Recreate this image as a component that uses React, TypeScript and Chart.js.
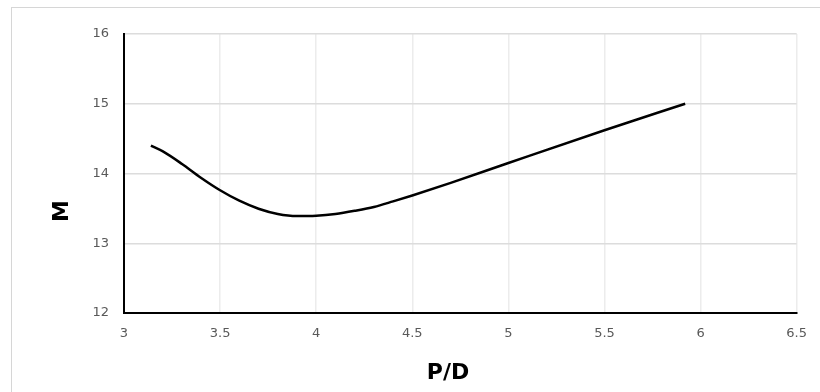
import React, { useEffect, useRef } from "react";
import { Chart, registerables } from "chart.js";

Chart.register(...registerables);

const pdValues = [3.14, 3.2, 3.3, 3.4, 3.5, 3.6, 3.7, 3.8, 3.9, 4.0, 4.1, 4.2, 4.3, 4.4, 4.5, 4.7, 5.0, 5.5, 5.92];
const mValues = [14.4, 14.32, 14.14, 13.94, 13.76, 13.61, 13.495, 13.42, 13.39, 13.395, 13.42, 13.465, 13.52, 13.6, 13.685, 13.865, 14.15, 14.62, 15.0];
const xTitle = "P/D";
const yTitle = "M";

const titlesPlugin = {
  id: "axisTitles",
  afterDraw(chart: any) {
    const ctx = chart.ctx;
    ctx.save();
    ctx.fillStyle = "#000";
    ctx.font = "bold 22px 'DejaVu Sans'";
    ctx.textAlign = "center";
    ctx.textBaseline = "middle";
    ctx.fillText(xTitle, 448, 373);
    ctx.translate(62, 211);
    ctx.rotate(-Math.PI / 2);
    ctx.fillText(yTitle, 0, 0);
    ctx.restore();
  },
};

const fmt = (v: any) => String(parseFloat(Number(v).toFixed(2)));

export default function App() {
  const ref = useRef<HTMLCanvasElement>(null);
  useEffect(() => {
    if (!ref.current) return;
    const points = pdValues.map((x, i) => ({ x, y: mValues[i] }));
    const chart = new Chart(ref.current, {
      type: "line",
      data: {
        datasets: [
          {
            data: points,
            borderColor: "#000",
            borderWidth: 2.5,
            pointRadius: 0,
            cubicInterpolationMode: "monotone",
            fill: false,
          },
        ],
      },
      options: {
        animation: false,
        responsive: false,
        maintainAspectRatio: false,
        layout: { padding: { left: 0, top: 34, right: 23, bottom: 0 } },
        plugins: { legend: { display: false }, tooltip: { enabled: false } },
        scales: {
          x: {
            type: "linear",
            min: 3,
            max: 6.5,
            afterFit: (s: any) => {
              s.height = 79;
            },
            ticks: {
              stepSize: 0.5,
              padding: 13,
              color: "#595959",
              font: { family: "'DejaVu Sans'", size: 13 },
              callback: fmt,
            },
            grid: { color: "#ececec", lineWidth: 1.5, drawTicks: false },
            border: { color: "#000", width: 2 },
          },
          y: {
            min: 12,
            max: 16,
            afterFit: (s: any) => {
              s.width = 124;
            },
            ticks: {
              stepSize: 1,
              padding: 15,
              color: "#595959",
              font: { family: "'DejaVu Sans'", size: 13 },
              callback: fmt,
            },
            grid: { color: "#dcdcdc", lineWidth: 1.5, drawTicks: false },
            border: { color: "#000", width: 2 },
          },
        },
      },
      plugins: [titlesPlugin],
    } as any);
    return () => chart.destroy();
  }, []);
  return (
    <div style={{ position: "fixed", left: 0, top: 0, width: 820, height: 392, background: "#fff", overflow: "hidden" }}>
      <div
        style={{
          position: "absolute",
          left: 11,
          top: 7,
          width: 840,
          height: 420,
          border: "1px solid #d6d6d6",
        }}
      />
      <canvas ref={ref} width={820} height={392} style={{ position: "absolute", left: 0, top: 0 }} />
    </div>
  );
}
